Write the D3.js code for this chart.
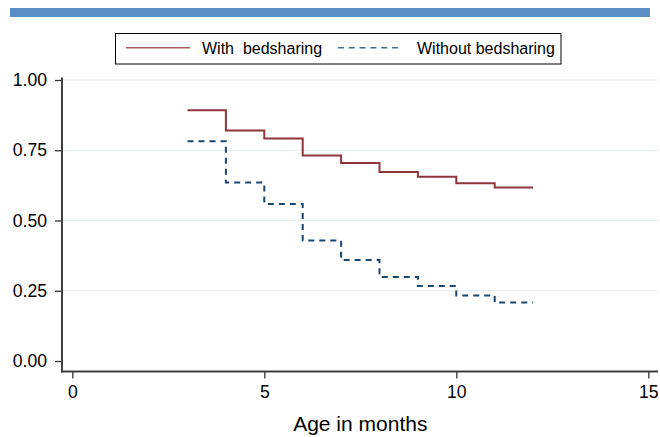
<!DOCTYPE html>
<html><head><meta charset="utf-8">
<script src="https://cdn.jsdelivr.net/npm/d3@7"></script>
<style>
html,body{margin:0;padding:0;background:#fff;}
svg text{font-family:"Liberation Sans",Arial,Helvetica,sans-serif;fill:#000;}
</style></head>
<body>
<svg id="chart" width="660" height="437"></svg>
<script>
// Data
const months = [3, 4, 5, 6, 7, 8, 9, 10, 11, 12];
const withBedsharing    = [0.892, 0.820, 0.792, 0.731, 0.705, 0.673, 0.656, 0.633, 0.617, 0.617];
const withoutBedsharing = [0.782, 0.635, 0.559, 0.429, 0.359, 0.299, 0.267, 0.233, 0.208, 0.208];
const xTicks = [0, 5, 10, 15];
const yTicks = [0, 0.25, 0.5, 0.75, 1];
const seriesNames = ["With  bedsharing", "Without bedsharing"];
const xTitle = "Age in months";

const svg = d3.select("#chart");
const red = "#90353b", navy = "#1a476f";

// top banner
svg.append("rect").attr("x", 10).attr("y", 8).attr("width", 640).attr("height", 9).attr("fill", "#5b8fc5");

const x = d3.scaleLinear().domain([0, 15]).range([72.3, 648.3]);
const y = d3.scaleLinear().domain([0, 1]).range([361, 80]);

const axisX0 = 62, axisX1 = 658, axisY = 371.5;

// gridlines
svg.append("g").selectAll("line").data(yTicks.filter(d => d > 0)).join("line")
  .attr("x1", axisX0).attr("x2", axisX1)
  .attr("y1", d => y(d)).attr("y2", d => y(d))
  .attr("stroke", "#e3edf0").attr("stroke-width", 1.2);

// y axis
const yAxis = d3.axisLeft(y).tickValues(yTicks).tickFormat(d3.format(".2f")).tickSize(7).tickPadding(8);
const gy = svg.append("g").attr("transform", `translate(${axisX0},0)`).call(yAxis);
gy.select(".domain").remove();
gy.selectAll(".tick line").attr("stroke", "#333").attr("stroke-width", 1.3);
gy.selectAll(".tick text").style("font-size", "17.6px").attr("fill", "#000");
svg.append("line").attr("x1", axisX0).attr("x2", axisX0).attr("y1", y(1) - 2.5).attr("y2", axisY + 1)
  .attr("stroke", "#404040").attr("stroke-width", 2);

// x axis
const xAxis = d3.axisBottom(x).tickValues(xTicks).tickFormat(d3.format("d")).tickSize(7).tickPadding(7);
const gx = svg.append("g").attr("transform", `translate(0,${axisY})`).call(xAxis);
gx.select(".domain").remove();
gx.selectAll(".tick line").attr("stroke", "#333").attr("stroke-width", 1.3);
gx.selectAll(".tick text").style("font-size", "17.6px").attr("fill", "#000");
svg.append("line").attr("x1", axisX0 - 1).attr("x2", axisX1).attr("y1", axisY).attr("y2", axisY)
  .attr("stroke", "#404040").attr("stroke-width", 2);

svg.append("text").attr("x", (x(0) + x(15)) / 2).attr("y", 431).attr("text-anchor", "middle")
  .style("font-size", "21px").text(xTitle);

// step lines
const line = d3.line().x((d, i) => x(months[i])).y(d => y(d)).curve(d3.curveStepAfter);
svg.append("path").datum(withoutBedsharing).attr("d", line).attr("fill", "none")
  .attr("stroke", navy).attr("stroke-width", 2).attr("stroke-dasharray", "6,5");
svg.append("path").datum(withBedsharing).attr("d", line).attr("fill", "none")
  .attr("stroke", red).attr("stroke-width", 2);

// legend
const lg = svg.append("g");
lg.append("rect").attr("x", 115.5).attr("y", 33.5).attr("width", 445.5).attr("height", 30.5)
  .attr("fill", "#fff").attr("stroke", "#000").attr("stroke-width", 1);
lg.append("line").attr("x1", 126).attr("x2", 190).attr("y1", 47.7).attr("y2", 47.7)
  .attr("stroke", red).attr("stroke-width", 1.5).attr("opacity", 0.8);
lg.append("text").attr("x", 202).attr("y", 54).style("font-size", "16px").style("white-space", "pre")
  .attr("xml:space", "preserve").text(seriesNames[0]);
lg.append("line").attr("x1", 338).attr("x2", 398).attr("y1", 47.7).attr("y2", 47.7)
  .attr("stroke", navy).attr("stroke-width", 1.5).attr("stroke-dasharray", "6,4.8").attr("opacity", 0.8);
lg.append("text").attr("x", 417).attr("y", 54).style("font-size", "16px").text(seriesNames[1]);
</script>
</body></html>
